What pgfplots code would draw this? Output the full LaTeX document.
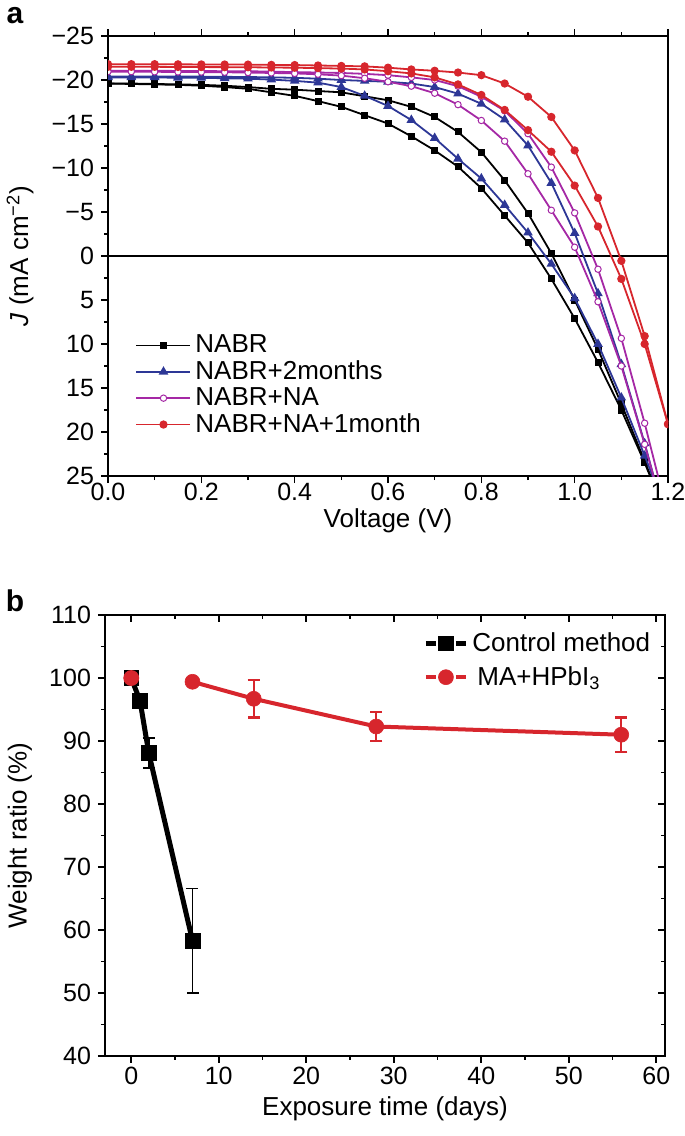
\documentclass[border=0pt]{standalone}
\usepackage{fontspec}
\setmainfont{Liberation Sans}
\usepackage{pgfplots}
\pgfplotsset{compat=1.18}
\definecolor{cblue}{RGB}{45,55,150}
\definecolor{cmag}{RGB}{165,40,165}
\definecolor{cred}{RGB}{215,38,45}
\begin{document}
\begin{tikzpicture}
\useasboundingbox (0,0) rectangle (342.5pt,-568pt);
\pgfplotsset{
  every axis/.append style={
    font=\fontsize{12.5}{15}\selectfont,
    /pgf/number format/assume math mode=true,
    axis line style={line width=0.9pt},
    major tick length=3.5pt, minor tick length=2pt,
    every tick/.style={black, line width=0.8pt},
    scale only axis,
  },
  blk/.style={black, line width=0.9pt, mark=square*, mark size=1.3pt, mark options={solid}},
  blu/.style={cblue, line width=0.9pt, mark=triangle*, mark size=1.9pt, mark options={solid}},
  mag/.style={cmag, line width=0.9pt, mark=*, mark size=1.6pt, mark options={solid, fill=white, line width=0.5pt}},
  rd/.style={cred, line width=0.9pt, mark=*, mark size=1.6pt, mark options={solid}},
}
\node[font=\bfseries\fontsize{15}{15}\selectfont] at (7.5pt,-8pt) {a};
\node[font=\bfseries\fontsize{15}{15}\selectfont] at (7.5pt,-300.5pt) {b};
% ---------------- panel a
\begin{axis}[
  at={(54pt,-18pt)}, anchor=north west, width=280pt, height=220pt,
  xmin=0, xmax=1.2, ymin=-25, ymax=25, y dir=reverse,
  xtick={0,0.2,0.4,0.6,0.8,1.0,1.2}, xticklabels={0.0,0.2,0.4,0.6,0.8,1.0,1.2},
  minor x tick num=1,
  ytick={-25,-20,-15,-10,-5,0,5,10,15,20,25},
  yticklabels={−25,−20,−15,−10,−5,0,5,10,15,20,25},
  minor y tick num=1,
  tick align=outside, xtick pos=both, ytick pos=left,
  xticklabel style={yshift=3.5pt},
  xlabel={Voltage (V)},
  ylabel={\textit{J} (mA cm\textsuperscript{−2})},
  xlabel style={at={(axis description cs:0.5,-0.102)}, anchor=center, font=\fontsize{13}{15}\selectfont},
  ylabel style={at={(axis description cs:-0.157,0.5)}, anchor=center, rotate=0, font=\fontsize{13}{15}\selectfont},
  clip marker paths=true,
  legend style={at={(axis description cs:0.045,0.335)}, anchor=north west, draw=none, fill=none,
    font=\fontsize{13}{15}\selectfont, row sep=-1.5pt, inner sep=1pt},
  legend cell align=left,
  legend image code/.code={\draw[mark repeat=2,mark phase=2] plot coordinates {(0pt,0pt) (13.5pt,0pt) (27pt,0pt)};},
]
\addplot[black, line width=0.6pt, forget plot] coordinates {(0,0) (1.2,0)};
% NABR
\addplot[blk] coordinates {
(0,-19.6) (0.05,-19.6) (0.1,-19.55) (0.15,-19.5) (0.2,-19.45) (0.25,-19.35) (0.3,-19.2) (0.35,-19.0)
(0.4,-18.9) (0.45,-18.75) (0.5,-18.6) (0.55,-18.15) (0.6,-17.7) (0.65,-16.95) (0.7,-15.8) (0.75,-14.1)
(0.8,-11.8) (0.85,-8.6) (0.9,-4.85) (0.95,-0.3) (1.0,5.0) (1.05,10.6) (1.1,16.8) (1.15,23.3) (1.2,30)};
\addlegendentry{NABR}
\addplot[blk, forget plot] coordinates {
(0,-19.6) (0.05,-19.55) (0.1,-19.5) (0.15,-19.45) (0.2,-19.35) (0.25,-19.2) (0.3,-19.0) (0.35,-18.6)
(0.4,-18.2) (0.45,-17.6) (0.5,-16.95) (0.55,-16.0) (0.6,-15.05) (0.65,-13.6) (0.7,-12.0) (0.75,-10.15)
(0.8,-7.7) (0.85,-4.6) (0.9,-1.5) (0.95,2.6) (1.0,7.1) (1.05,12.1) (1.1,17.5) (1.15,23.5) (1.2,30)};
% NABR+2months
\addplot[blu] coordinates {
(0,-20.4) (0.05,-20.4) (0.1,-20.4) (0.15,-20.4) (0.2,-20.38) (0.25,-20.36) (0.3,-20.34) (0.35,-20.3)
(0.4,-20.25) (0.45,-20.15) (0.5,-20.0) (0.55,-19.9) (0.6,-19.8) (0.65,-19.6) (0.7,-19.2) (0.75,-18.45)
(0.8,-17.3) (0.85,-15.5) (0.9,-12.55) (0.95,-8.3) (1.0,-2.6) (1.05,4.25) (1.1,12.3) (1.15,21.3) (1.2,31)};
\addlegendentry{NABR+2months}
\addplot[blu, forget plot] coordinates {
(0,-20.3) (0.05,-20.3) (0.1,-20.3) (0.15,-20.25) (0.2,-20.25) (0.25,-20.2) (0.3,-20.15) (0.35,-20.05)
(0.4,-19.9) (0.45,-19.7) (0.5,-19.2) (0.55,-18.2) (0.6,-17.05) (0.65,-15.45) (0.7,-13.4) (0.75,-11.05)
(0.8,-8.8) (0.85,-5.8) (0.9,-2.65) (0.95,0.9) (1.0,4.8) (1.05,10.0) (1.1,16.1) (1.15,22.7) (1.2,29.5)};
% NABR+NA
\addplot[mag] coordinates {
(0,-21.05) (0.05,-21.05) (0.1,-21.05) (0.15,-21.03) (0.2,-21.02) (0.25,-21.0) (0.3,-21.0) (0.35,-20.95)
(0.4,-20.9) (0.45,-20.85) (0.5,-20.8) (0.55,-20.7) (0.6,-20.55) (0.65,-20.3) (0.7,-20.0) (0.75,-19.3)
(0.8,-18.1) (0.85,-16.5) (0.9,-13.9) (0.95,-10.1) (1.0,-4.9) (1.05,1.5) (1.1,9.35) (1.15,19.0) (1.2,29.5)};
\addlegendentry{NABR+NA}
\addplot[mag, forget plot] coordinates {
(0,-20.95) (0.05,-20.95) (0.1,-20.93) (0.15,-20.92) (0.2,-20.9) (0.25,-20.88) (0.3,-20.85) (0.35,-20.8)
(0.4,-20.75) (0.45,-20.65) (0.5,-20.5) (0.55,-20.2) (0.6,-19.8) (0.65,-19.3) (0.7,-18.5) (0.75,-17.2)
(0.8,-15.4) (0.85,-13.05) (0.9,-9.35) (0.95,-5.2) (1.0,-1.0) (1.05,5.2) (1.1,12.5) (1.15,21.4) (1.2,31)};
% NABR+NA+1month
\addplot[rd] coordinates {
(0,-21.8) (0.05,-21.8) (0.1,-21.8) (0.15,-21.78) (0.2,-21.77) (0.25,-21.76) (0.3,-21.75) (0.35,-21.72)
(0.4,-21.7) (0.45,-21.65) (0.5,-21.6) (0.55,-21.55) (0.6,-21.4) (0.65,-21.2) (0.7,-21.05) (0.75,-20.85)
(0.8,-20.55) (0.85,-19.6) (0.9,-18.1) (0.95,-15.8) (1.0,-12.0) (1.05,-6.6) (1.1,0.55) (1.15,9.1) (1.2,19.1)};
\addlegendentry{NABR+NA+1month}
\addplot[rd, forget plot] coordinates {
(0,-21.5) (0.05,-21.5) (0.1,-21.5) (0.15,-21.48) (0.2,-21.47) (0.25,-21.46) (0.3,-21.45) (0.35,-21.42)
(0.4,-21.4) (0.45,-21.35) (0.5,-21.3) (0.55,-21.2) (0.6,-21.0) (0.65,-20.75) (0.7,-20.3) (0.75,-19.5)
(0.8,-18.3) (0.85,-16.6) (0.9,-14.3) (0.95,-11.85) (1.0,-8.0) (1.05,-3.35) (1.1,2.6) (1.15,10.0) (1.2,19.1)};
\end{axis}
% ---------------- panel b
\begin{axis}[
  at={(52.5pt,-307.5pt)}, anchor=north west, width=280pt, height=220.5pt,
  xmin=-3, xmax=61, ymin=40, ymax=110,
  xtick={0,10,20,30,40,50,60}, minor x tick num=1,
  xticklabels={0,10,20,30,40,50,60},
  ytick={40,50,60,70,80,90,100,110}, minor y tick num=1,
  yticklabels={40,50,60,70,80,90,100,110},
  tick align=outside, xtick pos=bottom, ytick pos=left,
  xticklabel style={yshift=1.5pt},
  xlabel={Exposure time (days)},
  ylabel={Weight ratio (\%)},
  xlabel style={at={(axis description cs:0.5,-0.12)}, anchor=center, font=\fontsize{13}{15}\selectfont},
  ylabel style={at={(axis description cs:-0.152,0.5)}, anchor=center, font=\fontsize{13}{15}\selectfont},
  legend style={at={(axis description cs:0.985,0.975)}, anchor=north east, draw=none, fill=none,
    font=\fontsize{13}{15}\selectfont, row sep=2pt, inner sep=1pt},
  legend cell align=left,
  legend image code/.code={
    \draw[mark=none] (0pt,0pt) -- (5pt,0pt);
    \draw[mark=none] (15pt,0pt) -- (20pt,0pt);
    \draw[mark repeat=1] plot coordinates {(10pt,0pt)};
  },
]
\addplot[black, line width=2.5pt, mark=square*, mark size=3.7pt, mark options={solid, line width=0.3pt},
  error bars/.cd, y dir=both, y explicit,
  error bar style={line width=0.9pt, black},
  error mark options={rotate=90, mark size=3pt, line width=0.9pt, black}]
  coordinates {(0,100) +- (0,0) (1,96.4) +- (0,0.8) (2,88.1) +- (0,2.4) (7,58.3) +- (0,8.3)};
\addlegendentry{Control method}
\addplot[cred, only marks, mark=*, mark size=3.75pt, forget plot] coordinates {(0,100)};
\addplot[cred, line width=2pt, mark=*, mark size=3.75pt, mark options={solid, line width=0.3pt},
  error bars/.cd, y dir=both, y explicit,
  error bar style={line width=1.2pt, cred},
  error mark options={rotate=90, mark size=3pt, line width=1.2pt, cred}]
  coordinates {(7,99.4) +- (0,0.5) (14,96.7) +- (0,3.0) (28,92.3) +- (0,2.3) (56,91.0) +- (0,2.7)};
\addlegendentry{\hspace{2.5pt}MA+HPbI\textsubscript{3}}
\end{axis}
\begin{axis}[
  at={(52.5pt,-307.5pt)}, anchor=north west, width=280pt, height=220.5pt,
  xmin=-3, xmax=61, ymin=40, ymax=110,
  xtick={0,10,20,30,40,50,60}, minor x tick num=1,
  ytick={40,50,60,70,80,90,100,110}, minor y tick num=1,
  tick align=inside, xtick pos=top, ytick pos=right,
  xticklabels={}, yticklabels={},
]
\end{axis}
\end{tikzpicture}
\end{document}
